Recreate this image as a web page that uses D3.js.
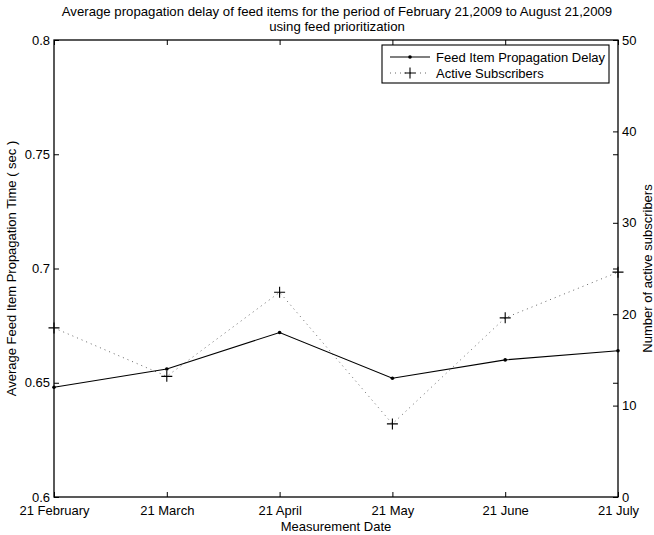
<!DOCTYPE html>
<html>
<head>
<meta charset="utf-8">
<script src="https://cdn.jsdelivr.net/npm/d3@7"></script>
<style>
  body { margin: 0; background: #fff; }
  svg text { font-family: "Liberation Sans", Arial, Helvetica, sans-serif; fill: #000; }
  .axis path, .axis line { stroke: #000; }
</style>
</head>
<body>
<div id="chart_placeholder"></div>
<script>
// data
var months = ["21 February", "21 March", "21 April", "21 May", "21 June", "21 July"];
var delaySec = [0.648, 0.656, 0.672, 0.652, 0.660, 0.664];
var subscribers = [18.5, 13.2, 22.4, 8.0, 19.6, 24.6];
var leftTicks = [0.6, 0.65, 0.7, 0.75, 0.8];
var rightTicks = [0, 10, 20, 30, 40, 50];

var width = 654;
var height = 535;
var margin = { top: 40, right: 36, bottom: 38, left: 54 };
var plotW = width - margin.left - margin.right;   // 564
var plotH = height - margin.top - margin.bottom;  // 457
var tickLen = 5;

var svg = d3.select("#chart_placeholder")
  .append("svg")
  .attr("width", width)
  .attr("height", height);

// title (two lines)
svg.append("text")
  .attr("x", 337).attr("y", 16)
  .attr("text-anchor", "middle")
  .style("font-size", "13.2px")
  .text("Average propagation delay of feed items for the period of February 21,2009 to August 21,2009");
svg.append("text")
  .attr("x", 337).attr("y", 31)
  .attr("text-anchor", "middle")
  .style("font-size", "13.2px")
  .text("using feed prioritization");

var g = svg.append("g")
  .attr("transform", "translate(" + margin.left + "," + margin.top + ")");

var x = d3.scalePoint().domain(months).range([0, plotW]);
var yL = d3.scaleLinear().domain([0.6, 0.8]).range([plotH, 0]);
var yR = d3.scaleLinear().domain([0, 50]).range([plotH, 0]);

// box
g.append("rect")
  .attr("width", plotW).attr("height", plotH)
  .attr("fill", "none").attr("stroke", "#000").attr("stroke-width", 1.3);

// bottom axis, ticks pointing inward
var xAxis = g.append("g")
  .attr("class", "axis")
  .attr("transform", "translate(0," + plotH + ")")
  .call(d3.axisBottom(x).tickSizeInner(-tickLen).tickSizeOuter(0).tickPadding(9));
xAxis.select(".domain").remove();
xAxis.selectAll("text").style("font-size", "13px");

// top ticks
var xTop = g.append("g")
  .attr("class", "axis")
  .call(d3.axisTop(x).tickSizeInner(-tickLen).tickSizeOuter(0).tickFormat(""));
xTop.select(".domain").remove();

// left axis
var yLeft = g.append("g")
  .attr("class", "axis")
  .call(d3.axisLeft(yL).tickValues(leftTicks).tickSizeInner(-tickLen).tickSizeOuter(0).tickPadding(4)
    .tickFormat(function(d){ return String(+d.toFixed(2)); }));
yLeft.select(".domain").remove();
yLeft.selectAll("text").style("font-size", "13px");

// left ticks mirrored on the right side
var yLeftMirror = g.append("g")
  .attr("class", "axis")
  .attr("transform", "translate(" + plotW + ",0)")
  .call(d3.axisRight(yL).tickValues(leftTicks).tickSizeInner(-tickLen).tickSizeOuter(0).tickFormat(""));
yLeftMirror.select(".domain").remove();

// right axis
var yRight = g.append("g")
  .attr("class", "axis")
  .attr("transform", "translate(" + plotW + ",0)")
  .call(d3.axisRight(yR).tickValues(rightTicks).tickSizeInner(-tickLen).tickSizeOuter(0).tickPadding(4));
yRight.select(".domain").remove();
yRight.selectAll("text").style("font-size", "13px");

// axis titles
g.append("text")
  .attr("x", plotW / 2).attr("y", plotH + 34)
  .attr("text-anchor", "middle")
  .style("font-size", "13px")
  .text("Measurement Date");

svg.append("text")
  .attr("transform", "translate(16," + (margin.top + plotH / 2) + ") rotate(-90)")
  .attr("text-anchor", "middle")
  .style("font-size", "13px")
  .text("Average Feed Item Propagation Time ( sec )");

svg.append("text")
  .attr("transform", "translate(652," + (margin.top + plotH / 2) + ") rotate(-90)")
  .attr("text-anchor", "middle")
  .style("font-size", "13px")
  .text("Number of active subscribers");

// subscribers: dotted line with plus markers
var subLine = d3.line()
  .x(function(d, i){ return x(months[i]); })
  .y(function(d){ return yR(d); });

g.append("path")
  .datum(subscribers)
  .attr("d", subLine)
  .attr("fill", "none")
  .attr("stroke", "#666")
  .attr("stroke-width", 1)
  .attr("stroke-dasharray", "1,4");

g.selectAll(".plus")
  .data(subscribers)
  .enter().append("path")
  .attr("class", "plus")
  .attr("d", "M-5.5,0H5.5M0,-5.5V5.5")
  .attr("transform", function(d, i){ return "translate(" + x(months[i]) + "," + yR(d) + ")"; })
  .attr("stroke", "#000")
  .attr("stroke-width", 1.1)
  .attr("fill", "none");

// delay: solid line with small dots
var delayLine = d3.line()
  .x(function(d, i){ return x(months[i]); })
  .y(function(d){ return yL(d); });

g.append("path")
  .datum(delaySec)
  .attr("d", delayLine)
  .attr("fill", "none")
  .attr("stroke", "#000")
  .attr("stroke-width", 1.1);

g.selectAll(".dot")
  .data(delaySec)
  .enter().append("circle")
  .attr("class", "dot")
  .attr("cx", function(d, i){ return x(months[i]); })
  .attr("cy", function(d){ return yL(d); })
  .attr("r", 1.8)
  .attr("fill", "#000");

// legend
var legend = svg.append("g")
  .attr("transform", "translate(382,45)");

legend.append("rect")
  .attr("width", 227).attr("height", 38)
  .attr("fill", "#fff").attr("stroke", "#000").attr("stroke-width", 1.1);

legend.append("line")
  .attr("x1", 8).attr("x2", 48).attr("y1", 12).attr("y2", 12)
  .attr("stroke", "#000").attr("stroke-width", 1.1);
legend.append("circle")
  .attr("cx", 28).attr("cy", 12).attr("r", 1.8).attr("fill", "#000");
legend.append("text")
  .attr("x", 54).attr("y", 16.5)
  .style("font-size", "13px")
  .text("Feed Item Propagation Delay");

legend.append("line")
  .attr("x1", 8).attr("x2", 48).attr("y1", 28).attr("y2", 28)
  .attr("stroke", "#666").attr("stroke-width", 1).attr("stroke-dasharray", "1,4");
legend.append("path")
  .attr("d", "M-5.5,0H5.5M0,-5.5V5.5")
  .attr("transform", "translate(28,28)")
  .attr("stroke", "#000").attr("stroke-width", 1.1);
legend.append("text")
  .attr("x", 54).attr("y", 32.5)
  .style("font-size", "13px")
  .text("Active Subscribers");
</script>
</body>
</html>
